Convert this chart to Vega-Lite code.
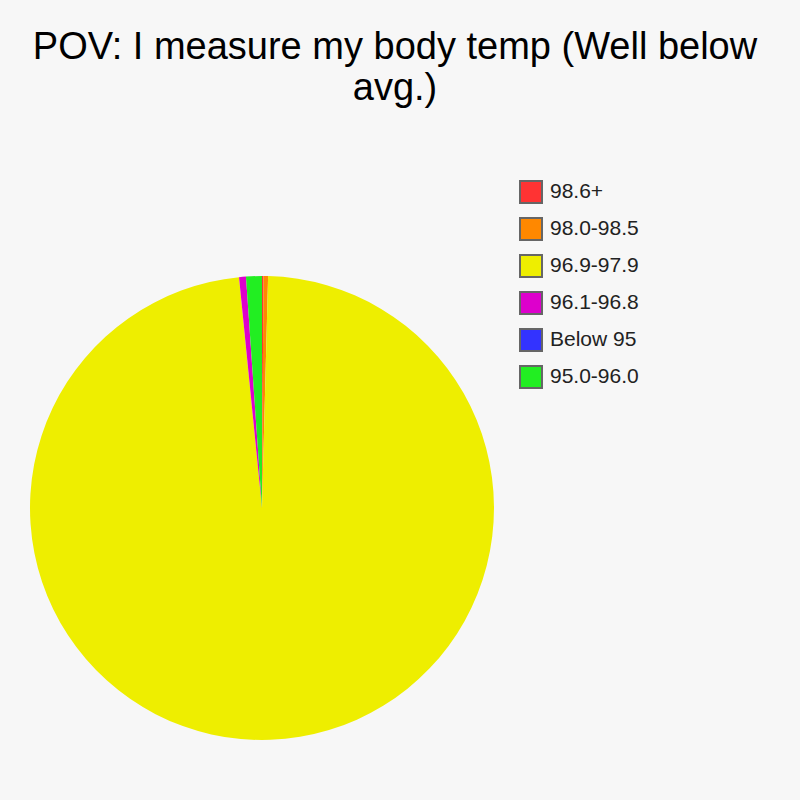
{
  "$schema": "https://vega.github.io/schema/vega-lite/v6.json",
  "width": 464,
  "height": 464,
  "autosize": {"type": "none"},
  "padding": {"left": 30, "top": 276, "right": 306, "bottom": 60},
  "background": "#f7f7f7",
  "config": {"view": {"stroke": null}, "font": "Liberation Sans"},
  "title": {
    "text": ["POV: I measure my body temp (Well below", "avg.)"],
    "fontSize": 38,
    "font": "Liberation Sans",
    "fontWeight": "normal",
    "color": "#000000",
    "anchor": "middle",
    "frame": "group",
    "dx": 133,
    "offset": 72,
    "lineHeight": 41
  },
  "data": {
    "values": [
      {"range": "98.6+", "value": 0.1, "idx": 1},
      {"range": "98.0-98.5", "value": 0.32, "idx": 2},
      {"range": "96.9-97.9", "value": 98.0, "idx": 3},
      {"range": "96.1-96.8", "value": 0.48, "idx": 4},
      {"range": "Below 95", "value": 0, "idx": 5},
      {"range": "95.0-96.0", "value": 1.1, "idx": 6}
    ]
  },
  "mark": {"type": "arc", "stroke": null},
  "encoding": {
    "theta": {"field": "value", "type": "quantitative", "stack": true},
    "order": {"field": "idx", "type": "quantitative"},
    "color": {
      "field": "range",
      "type": "nominal",
      "scale": {
        "domain": ["98.6+", "98.0-98.5", "96.9-97.9", "96.1-96.8", "Below 95", "95.0-96.0"],
        "range": ["#ff3333", "#ff8800", "#eeee00", "#dd00cc", "#3333ff", "#22ee22"]
      },
      "legend": {
        "title": null,
        "orient": "none",
        "legendX": 489,
        "legendY": -96,
        "symbolType": "square",
        "symbolSize": 484,
        "symbolStrokeColor": "#666666",
        "symbolStrokeWidth": 2,
        "symbolOpacity": 1,
        "labelFontSize": 21,
        "labelFont": "Liberation Sans",
        "labelColor": "#222222",
        "labelOffset": 7,
        "rowPadding": 7,
        "labelLimit": 300
      }
    }
  }
}
